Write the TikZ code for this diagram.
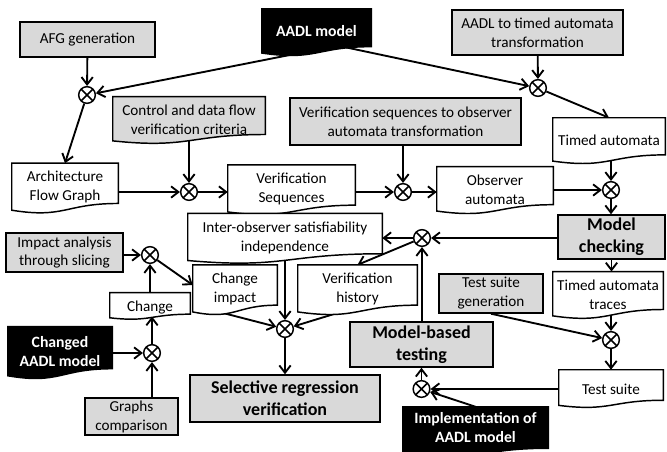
\documentclass[tikz,border=0pt]{standalone}
\usepackage{fontspec}
\setmainfont{Carlito}
\usetikzlibrary{arrows.meta,calc}
\definecolor{boxgray}{RGB}{217,217,217}
\pgfdeclarelayer{edges}
\pgfdeclarelayer{docs}
\pgfsetlayers{edges,docs,main}
\newcommand{\docshape}[2]{%
\begin{pgfonlayer}{docs}
\path[draw, line width=1.1pt, fill=#2] let \p1=(#1.north west), \p2=(#1.south east), \n1={\y1-\y2} in
 (\x1,\y1) -- (\x2,\y1) -- (\x2,\y2) .. controls ({(\x1+\x2)/2},\y2) and ({(\x1+\x2)/2},{\y2-0.38*\n1}) .. (\x1,{\y2-0.1675*\n1}) -- cycle;
\end{pgfonlayer}}
\newcommand{\up}{\rule{0pt}{13.8pt}}
\tikzset{
  lbl/.style={align=center, inner sep=0pt, font=\fontsize{11.4}{14.2}\selectfont},
  doc/.style={lbl},
  gbox/.style={lbl, draw, line width=1.1pt, fill=boxgray},
  sz/.style 2 args={minimum width={#1*0.75pt}, minimum height={#2*0.75pt}},
  big/.style={font=\bfseries\fontsize{13.5}{16.5}\selectfont},
  wbold/.style={font=\bfseries\fontsize{11.8}{14.5}\selectfont, text=white},
  xop/.style={circle, draw, fill=white, line width=1.1pt, minimum size=12.5pt, inner sep=0pt,
    path picture={\draw[line width=1.1pt] (path picture bounding box.north west) -- (path picture bounding box.south east)
      (path picture bounding box.north east) -- (path picture bounding box.south west);}},
  flow/.style={line width=1.4pt, -{Straight Barb[length=5.5pt,width=8.5pt]}},
}
\begin{document}
\begin{tikzpicture}[x=0.75pt,y=-0.75pt]
\useasboundingbox (0,0) rectangle (667,451);
\clip (0,0) rectangle (667,451);
% gray rectangles
\node[gbox, sz={135}{35}] (afg) at (87.5,39.5) {AFG generation};
\node[gbox, sz={171}{45}] (aadl2ta) at (537.5,32.5) {AADL to timed automata\\transformation};
\node[gbox, sz={231}{47}] (vseq2obs) at (405.5,121.5) {Verification sequences to observer\\automata transformation};
\node[gbox, big, sz={107}{44}] (mc) at (611.5,237) {Model\\checking};
\node[gbox, sz={117}{39}] (ias) at (64.5,252.5) {Impact analysis\\through slicing};
\node[gbox, sz={93}{37}] (gc) at (131.5,416.5) {Graphs\\comparison};
\node[gbox, big, sz={190}{47}] (srv) at (285,398.5) {Selective regression\\verification};
\node[gbox, big, sz={143}{45}] (mbt) at (421.5,344.5) {Model-based\\testing};
\node[gbox, sz={104}{39}] (tsg) at (491,293.5) {Test suite\\generation};
% documents
\node[doc, wbold, sz={109}{37.4}] (aadl) at (316.5,27.7) {\up AADL model};
\docshape{aadl}{black}
\node[doc, sz={152}{34.1}] (ctrl) at (189,115.5) {\up Control and data flow\\verification criteria};
\docshape{ctrl}{boxgray}
\node[doc, sz={112}{36.6}] (ta) at (609,136.3) {\up Timed automata};
\docshape{ta}{white}
\node[doc, sz={106}{36.6}] (afgraph) at (65,183.3) {\up Architecture\\Flow Graph};
\docshape{afgraph}{white}
\node[doc, sz={127}{34}] (vs) at (291.5,185) {\up Verification\\Sequences};
\docshape{vs}{white}
\node[doc, sz={116}{33.3}] (oa) at (495,185.7) {\up Observer\\automata};
\docshape{oa}{white}
\node[doc, sz={194}{29.3}] (ios) at (285,233.6) {\up Inter-observer satisfiability\\independence};
\docshape{ios}{white}
\node[doc, sz={119}{34}] (vh) at (357.5,285) {\up Verification\\history};
\docshape{vh}{white}
\node[doc, sz={84}{38}] (ci) at (235,285) {\up Change\\impact};
\docshape{ci}{white}
\node[doc, sz={80}{18.7}] (ch) at (150,303.4) {\up Change};
\docshape{ch}{white}
\node[doc, wbold, sz={104}{41.5}] (cam) at (60,347.7) {\up Changed\\AADL model};
\docshape{cam}{black}
\node[doc, sz={110}{34}] (tat) at (608,290.5) {\up Timed automata\\traces};
\docshape{tat}{white}
\node[doc, sz={104}{30}] (ts) at (611,385) {\up Test suite};
\docshape{ts}{white}
\node[lbl, wbold, sz={145}{41}] (impl) at (475.5,427.5) {Implementation of\\AADL model};
\docshape{impl}{black}
% operators
\node[xop] (x1) at (87,95) {};
\node[xop] (x2) at (538,88) {};
\node[xop] (x3) at (611,190) {};
\node[xop] (x4) at (189,192) {};
\node[xop] (x5) at (403,192) {};
\node[xop] (x6) at (422,238) {};
\node[xop] (x7) at (150,255) {};
\node[xop] (x8) at (152,353) {};
\node[xop] (x9) at (285,329) {};
\node[xop] (x10) at (421.5,389) {};
\node[xop] (x11) at (611,340) {};
% free ends
\coordinate (aadlL) at (320,49);
\coordinate (aadlR) at (330,44);
\coordinate (vhb) at (370,303);
\coordinate (chb) at (152,316.5);
\begin{pgfonlayer}{edges}
\draw[flow] (afg) -- (x1);
\draw[flow] (aadlL) -- (x1);
\draw[flow] (aadlR) -- (x2);
\draw[flow] (aadl2ta) -- (x2);
\draw[flow] (x2) -- (ta.north);
\draw[flow] (x1) -- (afgraph.north);
\draw[flow] (ctrl) -- (x4);
\draw[flow] (afgraph.east |- x4) -- (x4);
\draw[flow] (x4) -- (vs.west |- x4);
\draw[flow] (vseq2obs.south -| x5) -- (x5);
\draw[flow] (vs.east |- x5) -- (x5);
\draw[flow] (x5) -- (oa.west |- x5);
\draw[flow] (ta.south -| x3) -- (x3);
\draw[flow] (oa.east |- x3) -- (x3);
\draw[flow] (x3) -- (mc.north -| x3);
\draw[flow] (mc.west |- x6) -- (x6);
\draw[flow] (x6) -- (ios.east |- x6);
\draw[flow] (x6) -- (vh.north);
\draw[flow] (mc.south) -- (mc.south |- tat.north);
\draw[flow] (tat.south -| x11) -- (x11);
\draw[flow] (tsg.south) -- (x11);
\draw[flow] (x11) -- (ts.north -| x11);
\draw[flow] (ts.west |- x10) -- (x10);
\draw[flow] (impl.north) -- (x10);
\draw[flow] (x10) -- (mbt.south -| x10);
\draw[flow] (mbt.north -| x6) -- (x6);
\draw[flow] (ios.south -| x9) -- (x9);
\draw[flow] (ci.south west) -- (x9);
\draw[flow] (vhb) -- (x9);
\draw[flow] (x9) -- (srv);
\draw[flow] (ias.east |- x7) -- (x7);
\draw[flow] (ch) -- (x7);
\draw[flow] (x7) -- (ci.west);
\draw[flow] (cam.east |- x8) -- (x8);
\draw[flow] (gc.north -| x8) -- (x8);
\draw[flow] (x8) -- (chb);
\end{pgfonlayer}
\end{tikzpicture}
\end{document}
